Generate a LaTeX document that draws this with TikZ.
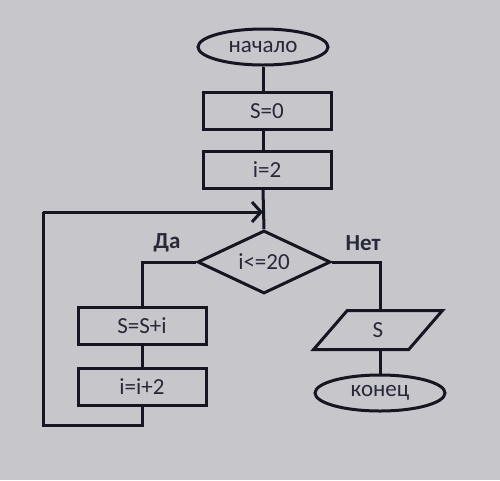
\documentclass[tikz,border=0pt]{standalone}
\usepackage{fontspec}
\setmainfont{Carlito}
\usetikzlibrary{shapes.geometric,arrows.meta}
\definecolor{bg}{RGB}{198,198,203}
\definecolor{ink}{RGB}{22,22,34}
\definecolor{txt}{RGB}{40,40,56}
\tikzset{
  blk/.style={draw=ink,line width=3pt,text=txt,font=\fontsize{23}{24}\selectfont,inner sep=0pt},
  procbox/.style={blk,rectangle,minimum width=128pt,minimum height=37pt},
  term/.style={blk,ellipse,minimum width=130pt,minimum height=36pt},
  decide/.style={blk,diamond,aspect=2.15,minimum width=133pt,minimum height=63pt},
  io/.style={blk,trapezium,trapezium left angle=69,trapezium right angle=111,trapezium stretches=true,minimum width=129pt,minimum height=39pt},
  conn/.style={draw=ink,line width=3pt},
  lbl/.style={text=txt,font=\bfseries\fontsize{23}{24}\selectfont}
}
\begin{document}
\begin{tikzpicture}[x=1pt,y=-1pt]
\fill[bg] (0,0) rectangle (500,480);
\useasboundingbox (0,0) rectangle (500,480);
\node[term] (start) at (263,47) {начало};
\node[procbox] (s0) at (267,111) {S=0};
\node[procbox] (i2) at (267,170) {i=2};
\node[decide] (dia) at (264,262) {i<=20};
\node[procbox] (ssi) at (142,326) {S=S+i};
\node[procbox] (ii2) at (142,387) {i=i+2};
\node[io] (out) at (378,330) {S};
\node[term] (end) at (380,393) {конец};
\coordinate (loopin) at (263,212);
\coordinate (lbot) at (43,425);
\coordinate (ltop) at (43,212);
\draw[conn] (start.south) -- (start.south |- s0.north);
\draw[conn] (start.south |- s0.south) -- (start.south |- i2.north);
\draw[conn] (start.south |- i2.south) -- (dia.north);
\draw[conn] (dia.west) -| (ssi.north);
\draw[conn] (ssi.south) -- (ii2.north);
\draw[conn] (ii2.south) |- (lbot) -- (ltop);
\draw[conn,-{Straight Barb[length=9pt,width=20pt,line width=3pt]}] (ltop) -- (loopin);
\draw[conn] (dia.east) -| (out.north -| end.north);
\draw[conn] (out.south -| end.north) -- (end.north);
\node[lbl] (da) at (167,243) {Да};
\node[lbl] (net) at (363,243) {Нет};
\end{tikzpicture}
\end{document}
